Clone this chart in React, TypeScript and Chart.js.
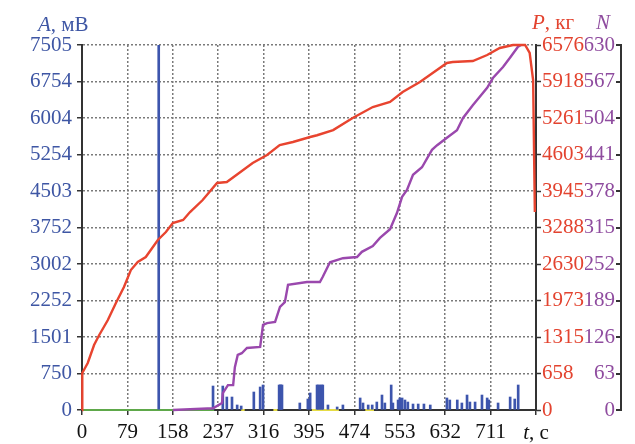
import React, { useEffect, useRef } from 'react';
import { Chart, registerables } from 'chart.js';

Chart.register(...registerables);

const FONT = '"Liberation Serif", "Times New Roman", serif';

// Axis ranges and tick labels
const tMax = 790;
const aMax = 7505;
const pMax = 6576;
const nMax = 630;
const tTicks = [0, 79, 158, 237, 316, 395, 474, 553, 632, 711, 790];
const tTickLabels = ['0', '79', '158', '237', '316', '395', '474', '553', '632', '711', ''];
const aTickLabels = ['0', '750', '1501', '2252', '3002', '3752', '4503', '5254', '6004', '6754', '7505'];
const pTickLabels = ['0', '658', '1315', '1973', '2630', '3288', '3945', '4603', '5261', '5918', '6576'];
const nTickLabels = ['0', '63', '126', '189', '252', '315', '378', '441', '504', '567', '630'];

// Load P, kg
const pTime = [0, 0.5, 10, 21, 30, 45, 59, 73, 85, 97, 111, 132, 146, 158, 176, 188, 210, 235, 252, 297, 322, 344, 367, 397, 409, 437, 471, 506, 536, 558, 588, 635, 645, 680, 705, 727, 750, 771, 779, 785, 788];
const pValues = [0, 667, 847, 1171, 1351, 1621, 1927, 2216, 2522, 2666, 2756, 3063, 3207, 3369, 3423, 3567, 3783, 4090, 4108, 4450, 4594, 4774, 4828, 4918, 4950, 5044, 5261, 5459, 5549, 5729, 5909, 6252, 6270, 6288, 6396, 6522, 6576, 6576, 6432, 5945, 3567];

// Cumulative count N
const nTime = [158, 228, 243.6, 245, 254, 263, 266, 271, 278, 287, 310, 315, 322, 336, 344.5, 353, 358.5, 391.5, 414, 419, 431.5, 454, 478.5, 487, 506, 518.5, 536, 548, 557, 565.5, 576, 591.6, 609, 618, 635, 652.5, 663, 680, 705, 715, 732.6, 744.7, 758.7, 764];
const nValues = [0, 3, 12, 29, 43, 43, 74, 95, 98, 107, 109, 147, 150, 152, 178, 186, 216, 221, 221, 230, 255, 262, 264, 273, 283, 297, 312, 340, 368, 380, 406, 419, 449, 457, 470, 483, 504, 526, 556, 573, 592, 608, 627, 630];

// Amplitude A, mV (spikes)
const aTime = [133.5, 228, 245, 252, 261, 270, 277, 299, 310, 315, 343, 345, 346, 348, 379, 393, 397, 409, 411, 414, 417, 419, 428, 444, 454, 484, 489, 498, 505, 513, 522, 527, 538, 541, 550, 553, 557, 562, 567, 576, 585, 595, 606, 635, 640, 653, 661, 670, 675, 684, 696, 705, 708, 724, 745, 753, 759];
const aValues = [7505, 493, 493, 267, 267, 103, 82, 370, 473, 514, 514, 514, 514, 514, 144, 226, 350, 514, 514, 514, 514, 514, 103, 62, 103, 247, 144, 103, 103, 164, 308, 144, 514, 144, 206, 247, 247, 206, 164, 123, 123, 123, 103, 247, 206, 206, 144, 308, 164, 164, 308, 247, 206, 144, 267, 226, 514];

// Near-zero auxiliary traces
const greenTime = [0, 230];
const greenValues = [0, 0];
const yellowTime = [277, 283, 283.5, 333, 340, 340.5, 400, 447, 447.5, 493, 508];
const yellowValues = [0, 0, null, 0, 0, null, 0, 0, null, 0, 0];

const BLUE_TXT = '#3e56a4';
const RED_TXT = '#e3432f';
const PURPLE_TXT = '#8f4c9f';
const AXIS = '#333333';
const GRID = '#7a7a7a';

const zip = (xs: number[], ys: (number | null)[]) => xs.map((x, i) => ({ x, y: ys[i] }));

function drawRich(ctx: CanvasRenderingContext2D, parts: [string, boolean][], x: number, y: number, color: string, center = false) {
  ctx.fillStyle = color;
  ctx.textBaseline = 'alphabetic';
  ctx.textAlign = 'left';
  let total = 0;
  const widths = parts.map(([s, it]) => {
    ctx.font = `${it ? 'italic ' : ''}21px ${FONT}`;
    const w = ctx.measureText(s).width;
    total += w;
    return w;
  });
  let cx = center ? x - total / 2 : x;
  parts.forEach(([s, it], i) => {
    ctx.font = `${it ? 'italic ' : ''}21px ${FONT}`;
    ctx.fillText(s, cx, y);
    cx += widths[i];
  });
}

const decor = {
  id: 'decor',
  afterDraw(chart: any) {
    const ctx = chart.ctx as CanvasRenderingContext2D;
    const n = chart.scales.yN;
    const x = chart.scales.x;
    drawRich(ctx, [['A', true], [', мВ', false]], 38, 31, BLUE_TXT);
    drawRich(ctx, [['P', true], [', кг', false]], 532, 29, RED_TXT);
    drawRich(ctx, [['N', true]], 596, 29, PURPLE_TXT);
    drawRich(ctx, [['t', true], [', с', false]], x.getPixelForValue(tMax), 439, '#111111', true);
    const top = Number(n.getPixelForValue(nMax));
    const bottom = Number(n.getPixelForValue(0));
    const lineX = Math.round(n.right) + 5;
    ctx.save();
    ctx.fillStyle = AXIS;
    ctx.fillRect(lineX, top - 1, 2, bottom - top + 2);
    for (let i = 0; i < nTickLabels.length; i++) {
      const y = Number(n.getPixelForValue((nMax * i) / 10));
      ctx.fillRect(lineX - 4, Math.round(y) - 1, 4, 2);
    }
    ctx.restore();
  },
};

export default function App() {
  const ref = useRef<HTMLCanvasElement | null>(null);

  useEffect(() => {
    document.documentElement.style.overflow = 'hidden';
    document.body.style.overflow = 'hidden';
    document.body.style.margin = '0';
    if (!ref.current) return;
    const tickFont = { family: FONT, size: 21 };
    const chart = new Chart(ref.current, {
      type: 'line',
      data: {
        datasets: [
          {
            type: 'line',
            label: 'P',
            data: zip(pTime, pValues),
            yAxisID: 'yP',
            borderColor: '#e8442f',
            borderWidth: 2.4,
            pointRadius: 0,
            tension: 0,
            order: 1,
            clip: 4,
          } as any,
          {
            type: 'line',
            label: 'N',
            data: zip(nTime, nValues),
            yAxisID: 'yN',
            borderColor: '#9a48ad',
            borderWidth: 2.4,
            pointRadius: 0,
            tension: 0,
            order: 2,
            clip: 4,
          } as any,
          {
            type: 'bar',
            label: 'A',
            data: zip(aTime, aValues),
            yAxisID: 'yA',
            backgroundColor: '#3d55ad',
            borderWidth: 0,
            barThickness: 2,
            order: 3,
          } as any,
          {
            type: 'line',
            label: 'g',
            data: zip(greenTime, greenValues),
            yAxisID: 'yA',
            borderColor: '#5ea84a',
            borderWidth: 2,
            pointRadius: 0,
            order: 4,
            clip: 4,
          } as any,
          {
            type: 'line',
            label: 'y',
            data: zip(yellowTime, yellowValues),
            yAxisID: 'yA',
            borderColor: '#e6dc45',
            borderWidth: 2,
            pointRadius: 0,
            spanGaps: false,
            order: 4,
            clip: 4,
          } as any,
        ],
      },
      options: {
        responsive: false,
        animation: false,
        parsing: true,
        layout: { padding: { top: 45, left: 0, right: 20, bottom: 0 } },
        plugins: { legend: { display: false }, tooltip: { enabled: false } },
        scales: {
          x: {
            type: 'linear',
            min: 0,
            max: tMax,
            offset: false,
            afterBuildTicks: (s: any) => {
              s.ticks = tTicks.map((v) => ({ value: v }));
            },
            afterFit: (s: any) => {
              s.height = 34;
            },
            ticks: {
              autoSkip: false,
              maxRotation: 0,
              padding: 5,
              color: '#111111',
              font: tickFont,
              callback: (_v: any, i: number) => tTickLabels[i],
            },
            grid: {
              offset: false,
              color: GRID,
              lineWidth: 1.5,
              tickLength: 5,
              tickColor: AXIS,
              tickWidth: 1.5,
            },
            border: { display: true, color: AXIS, width: 2, dash: [2, 2] },
          },
          yA: {
            type: 'linear',
            position: 'left',
            min: 0,
            max: aMax,
            afterBuildTicks: (s: any) => {
              s.ticks = aTickLabels.map((_, i) => ({ value: (aMax * i) / 10 }));
            },
            afterFit: (s: any) => {
              s.width = 82;
            },
            ticks: {
              autoSkip: false,
              padding: 5,
              color: BLUE_TXT,
              font: tickFont,
              callback: (_v: any, i: number) => aTickLabels[i],
            },
            grid: {
              color: GRID,
              lineWidth: 1.5,
              tickLength: 5,
              tickColor: AXIS,
              tickWidth: 1.5,
            },
            border: { display: true, color: AXIS, width: 2, dash: [2, 2] },
          },
          yP: {
            type: 'linear',
            position: 'right',
            weight: 0,
            min: 0,
            max: pMax,
            afterBuildTicks: (s: any) => {
              s.ticks = pTickLabels.map((_, i) => ({ value: (pMax * i) / 10 }));
            },
            afterFit: (s: any) => {
              s.width = 49;
            },
            ticks: {
              autoSkip: false,
              padding: 1,
              color: RED_TXT,
              font: tickFont,
              callback: (_v: any, i: number) => pTickLabels[i],
            },
            grid: {
              drawOnChartArea: false,
              color: AXIS,
              tickLength: 5,
              tickColor: AXIS,
              tickWidth: 1.5,
            },
            border: { display: true, color: AXIS, width: 2 },
          },
          yN: {
            type: 'linear',
            position: 'right',
            weight: 1,
            min: 0,
            max: nMax,
            afterBuildTicks: (s: any) => {
              s.ticks = nTickLabels.map((_, i) => ({ value: (nMax * i) / 10 }));
            },
            afterFit: (s: any) => {
              s.width = 30;
            },
            ticks: {
              autoSkip: false,
              padding: 0,
              crossAlign: 'far',
              color: PURPLE_TXT,
              font: tickFont,
              callback: (_v: any, i: number) => nTickLabels[i],
            },
            grid: { display: false },
            border: { display: false },
          },
        },
      } as any,
      plugins: [decor],
    });
    return () => chart.destroy();
  }, []);

  return (
    <div style={{ position: 'absolute', left: 0, top: 0, width: 635, height: 444, background: '#ffffff' }}>
      <canvas ref={ref} width={635} height={444} style={{ display: 'block' }} />
    </div>
  );
}
